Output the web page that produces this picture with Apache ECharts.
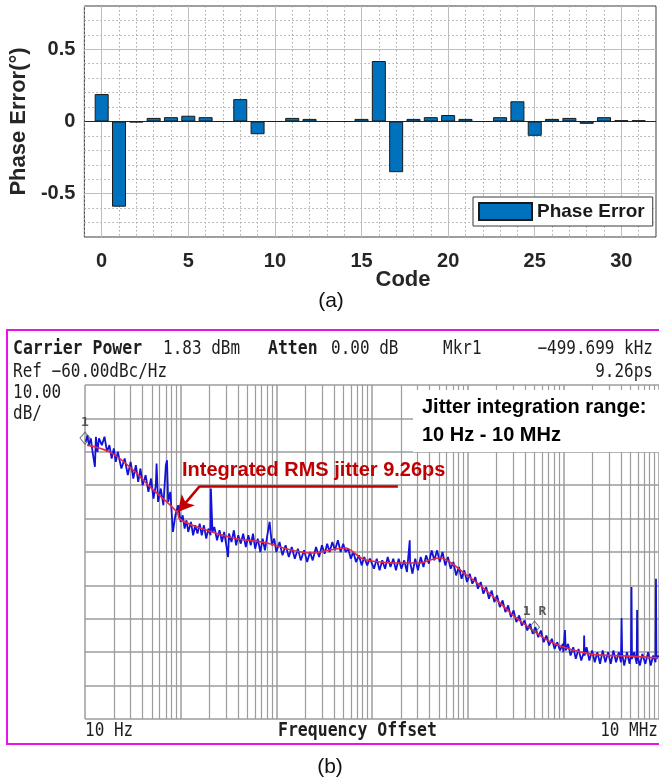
<!DOCTYPE html>
<html><head><meta charset="utf-8">
<script src="https://cdn.jsdelivr.net/npm/echarts@6/dist/echarts.min.js"></script>
<style>html,body{margin:0;padding:0;background:#fff}#c{width:659px;height:784px}</style>
</head><body><div id="c"></div>
<script>
// ---------- (a) Phase error ----------
const codes = [0,1,2,3,4,5,6,7,8,9,10,11,12,13,14,15,16,17,18,19,20,21,22,23,24,25,26,27,28,29,30,31];
const phaseError = [0.19,-0.59,-0.006,0.025,0.03,0.04,0.03,0,0.155,-0.088,0,0.025,0.018,0,0,0.018,0.419,-0.351,0.018,0.03,0.045,0.018,0,0.03,0.14,-0.099,0.018,0.025,-0.016,0.03,0.009,0.009];
const codeTicks = [0,5,10,15,20,25,30];
const phaseTicks = [-0.5,0,0.5];

// ---------- (b) Phase noise ----------
const blueTrace = [
[10.2,-77],[10.6,-75],[11,-78],[11.5,-76],[12,-80],[12.7,-84.5],[13,-75.5],[13.5,-80],[14,-76],[15,-78],[16,-75.5],[17,-80],[18,-78],[19,-82],[20,-79],[21,-83],[22,-80],[24,-85],[26,-82],[28,-87],[30,-83],[32,-88],[34,-84],[36,-89],[38,-85],[40,-90],[43,-87],[46,-92],[49,-88],[52,-94],[55,-90],[56,-83.5],[58,-95],[62,-91],[66,-96],[70,-84],[72,-82.5],[74,-95],[78,-92],[83,-104],[88,-99],[94,-96],[100,-101],
[105,-99],[110,-103],[115,-100.5],[120,-104],[128,-101],[135,-105],[142,-102],[150,-104.5],[158,-101.5],[166,-105],[175,-102],[185,-106],[195,-103],[205,-105],[207,-91],[215,-104],[225,-102.5],[240,-106.5],[255,-103.5],[270,-107],[285,-104],[300,-108],[313,-111.5],[320,-104.5],[340,-107],[360,-103.5],[380,-108],[400,-105],[425,-107.5],[450,-104.5],[480,-108.5],[510,-105],[540,-108],[570,-104.5],[600,-109],[640,-106],[680,-110],[720,-106],[760,-109.5],[800,-105.5],[850,-101],[900,-108],[950,-106],[1000,-110],
[1080,-107],[1160,-111],[1250,-108],[1350,-111.5],[1450,-108.5],[1560,-112],[1680,-109],[1800,-112.5],[1950,-109.5],[2100,-113],[2250,-110],[2400,-112.5],[2600,-108.5],[2800,-111.5],[3000,-108],[3200,-110.5],[3400,-107.5],[3600,-110],[3850,-107],[4100,-109.5],[4400,-106.5],[4700,-110],[5000,-107.5],[5300,-110],[5650,-109],[6000,-112],[6400,-110],[6800,-113],[7300,-111],[7800,-114],[8300,-111.5],[8900,-114],[9500,-112],
[10500,-115],[11200,-112],[12000,-115.5],[12800,-112.5],[13700,-115],[14600,-111.5],[15600,-114.5],[16700,-112],[17800,-115.5],[19000,-112],[20300,-115],[21700,-112.5],[23200,-116],[24800,-106.5],[25000,-113],[26500,-116.5],[28300,-112],[30200,-115.5],[32300,-111.5],[34500,-114.5],[36800,-111],[39300,-113.5],[42000,-109.5],[44800,-112.5],[47900,-109.5],[51100,-113],[54600,-110],[58300,-114],[62200,-111.5],[66400,-115],[70900,-113],[75700,-117],[80900,-114.5],[86400,-118],[92200,-115.5],[98500,-119],
[105000,-116.5],[112000,-119.5],[120000,-117.5],[128000,-121],[137000,-119],[146000,-122.5],[156000,-120.5],[167000,-124],[178000,-121.5],[190000,-125],[203000,-123],[217000,-126.5],[232000,-124.5],[248000,-128],[265000,-126],[283000,-129.5],[302000,-127.5],[323000,-131],[345000,-129],[368000,-132],[393000,-130.5],[420000,-133.5],[448000,-131.5],[479000,-134.5],[511000,-132.5],[546000,-135.5],[583000,-133.5],[623000,-137],[665000,-135],[710000,-138],[758000,-136],[810000,-139],[865000,-137],[924000,-139.5],[987000,-137.5],
[1000000,-140],[1040000,-133.4],[1060000,-139.5],[1120000,-137.5],[1190000,-141],[1270000,-138.5],[1350000,-142],[1440000,-139],[1540000,-142.5],[1640000,-140],[1650000,-135],[1670000,-141],[1750000,-138.5],[1870000,-142.5],[2000000,-139.5],[2130000,-143],[2270000,-140],[2420000,-143.5],[2580000,-139.5],[2750000,-143],[2940000,-140],[3130000,-143.5],[3340000,-139.5],[3560000,-143],[3800000,-140],[4000000,-143],[4060000,-129.8],[4120000,-140.5],[4330000,-144],[4620000,-140],[4930000,-143.5],[5100000,-140.5],[5160000,-120.5],[5220000,-142],[5500000,-140],[5850000,-143.5],[5900000,-127.4],[5960000,-141],[6300000,-144],[6700000,-140.5],[7200000,-143.5],[7700000,-140],[8200000,-144],[8700000,-141],[9200000,-143],[9300000,-118],[9400000,-142],[9900000,-141]
];
const redTrace = [
[10.5,-78],[18.2,-80.1],[29.5,-84.6],[47.8,-90.5],[91.4,-98],[98.4,-100.2],[159,-102.8],[352,-105.8],[798,-107.3],[1291,-109.1],[2412,-110.3],[3630,-109.4],[5210,-108.8],[8035,-112.1],[12100,-113],[18200,-113.3],[31600,-113.3],[40300,-112.4],[51300,-111.8],[65200,-113],[89100,-116],[134000,-119.9],[202000,-124.4],[297000,-128.9],[447000,-132.8],[673000,-136.3],[989000,-138.4],[1490000,-139.9],[2240000,-140.8],[4190000,-141.1],[6780000,-141.4],[9700000,-141.7]
];
const markers = [[10,-75.9],[499699,-132.5]];
const markerLabels = ['1','1 R'];
const decades = [10,100,1000,10000,100000,1000000];
const minorMult = [2,3,4,5,6,7,8,9];

const minorGrid = [];
decades.forEach(d => minorMult.forEach(m => minorGrid.push({xAxis: d*m})));

const chart = echarts.init(document.getElementById('c'), null, {renderer:'canvas'});
const SANS = 'Liberation Sans, Arial, sans-serif';
const MONO = 'DejaVu Sans Mono, Liberation Mono, monospace';

function isTick(v, arr){ return arr.find(t => Math.abs(t - v) < 1e-6); }

const gridMarks = [];
codeTicks.forEach(c => gridMarks.push({xAxis:c, lineStyle:{color:'#bdbdbd', width:1, type:'solid'}}));
phaseTicks.forEach(p => gridMarks.push({yAxis:p, lineStyle: p===0 ? {color:'#262626', width:1.2, type:'solid'} : {color:'#bdbdbd', width:1, type:'solid'}}));

function monoText(txt, x, y, opt){
  return {type:'text', x:x, y:y, z:100, scaleY:1.18, style:Object.assign({text:txt, font:'16px '+MONO, fill:'#1e1e1e', verticalAlign:'middle', align:'left'}, opt||{})};
}

const option = {
  animation:false,
  backgroundColor:'#fff',
  grid:[
    {left:72, top:6, right:-25, bottom:547, show:true, backgroundColor:'#fff', borderColor:'#3a3a3a', borderWidth:1},
    {left:85, top:385, right:0, bottom:65}
  ],
  xAxis:[
    {gridIndex:0, type:'value', min:-1, max:32, interval:1,
     axisLine:{show:false}, axisTick:{show:false},
     splitLine:{show:true, lineStyle:{color:'#a8a8a8', type:[1.5,2.5], width:1}},
     axisLabel:{interval:0, margin:14, fontFamily:SANS, fontWeight:'bold', fontSize:20, color:'#262626',
       formatter: v => { const t = isTick(v, codeTicks); return t===undefined ? '' : String(t); }}},
    {gridIndex:1, type:'log', logBase:10, min:10, max:10000000,
     axisLine:{show:false}, axisTick:{show:false}, axisLabel:{show:false},
     splitLine:{show:true, lineStyle:{color:'#9c9c9c', width:1.5}}}
  ],
  yAxis:[
    {gridIndex:0, type:'value', min:-0.8, max:0.8, interval:0.1,
     axisLine:{show:false}, axisTick:{show:false},
     splitLine:{show:true, lineStyle:{color:'#a8a8a8', type:[1.5,2.5], width:1}},
     name:'Phase Error(°)', nameLocation:'middle', nameGap:51, nameRotate:90,
     nameTextStyle:{fontFamily:SANS, fontWeight:'bold', fontSize:22, color:'#262626'},
     axisLabel:{interval:0, margin:9, fontFamily:SANS, fontWeight:'bold', fontSize:20, color:'#262626',
       formatter: v => { const t = isTick(v, phaseTicks); return t===undefined ? '' : String(t); }}},
    {gridIndex:1, type:'value', min:-160, max:-60, interval:10,
     axisLine:{show:false}, axisTick:{show:false}, axisLabel:{show:false},
     splitLine:{show:true, lineStyle:{color:'#9c9c9c', width:1.5}}}
  ],
  legend:{
    data:['Phase Error'], left:473, top:197, orient:'horizontal',
    icon:'rect', itemWidth:53, itemHeight:17, itemGap:5,
    padding:[5,8,5,5], borderColor:'#3a3a3a', borderWidth:1, backgroundColor:'#fff',
    textStyle:{fontFamily:SANS, fontWeight:'bold', fontSize:19, color:'#1a1a1a'}
  },
  series:[
    {name:'Phase Error', type:'bar', xAxisIndex:0, yAxisIndex:0, z:3,
     barWidth:14,
     data: codes.map((c,i)=>[c, phaseError[i]]),
     itemStyle:{color:'#0072BD', borderColor:'#1a1a1a', borderWidth:1},
     markLine:{silent:true, z:1, symbol:['none','none'], label:{show:false}, data:gridMarks}
    },
    {name:'noise', type:'line', xAxisIndex:1, yAxisIndex:1, z:3,
     data: blueTrace, showSymbol:false, symbol:'none',
     lineStyle:{color:'#1212d8', width:1.8},
     markLine:{silent:true, z:1, symbol:['none','none'], label:{show:false},
       lineStyle:{color:'#9c9c9c', width:1.2, type:'solid'}, data:minorGrid}
    },
    {name:'smooth', type:'line', xAxisIndex:1, yAxisIndex:1, z:4,
     data: redTrace, smooth:0.4, showSymbol:false, symbol:'none',
     lineStyle:{color:'#e42a48', width:1.6},
     markLine:{silent:true, z:6, label:{show:false}, lineStyle:{color:'#c00000', width:2.5, type:'solid'},
       data:[
         [{coord:[159,-90.2], symbol:'none'}, {coord:[18650,-90.2], symbol:'none'}],
         [{coord:[159,-90.2], symbol:'none'}, {coord:[93.7,-98.0], symbol:'arrow', symbolSize:[13,16]}]
       ]}
    },
    {name:'markers', type:'scatter', xAxisIndex:1, yAxisIndex:1, z:7,
     data: markers.map((m,i)=>({value:m, label:{show:true, formatter:markerLabels[i]}})),
     symbol:'diamond', symbolSize:[10,12],
     itemStyle:{color:'rgba(255,255,255,0)', borderColor:'#555', borderWidth:1},
     label:{position:'top', distance:2, fontFamily:MONO, fontWeight:'bold', fontSize:13, color:'#333'}
    }
  ],
  graphic:[
    {type:'rect', z:50, shape:{x:7, y:330, width:700, height:414}, style:{fill:'none', stroke:'#e614e6', lineWidth:2}},
    {type:'text', x:403, y:280, z:100, style:{text:'Code', font:'bold 22px '+SANS, fill:'#262626', align:'center', verticalAlign:'middle'}},
    {type:'text', x:331, y:301, z:100, style:{text:'(a)', font:'21px '+SANS, fill:'#111', align:'center', verticalAlign:'middle'}},
    {type:'text', x:330, y:767, z:100, style:{text:'(b)', font:'21px '+SANS, fill:'#111', align:'center', verticalAlign:'middle'}},
    monoText('Carrier Power', 13, 349, {font:'bold 16.5px '+MONO}),
    monoText('1.83 dBm', 163, 349),
    monoText('Atten', 268, 349, {font:'bold 16.5px '+MONO}),
    monoText('0.00 dB', 331, 349),
    monoText('Mkr1', 443, 349),
    monoText('\u2212499.699 kHz', 653, 349, {align:'right'}),
    monoText('Ref \u221260.00dBc/Hz', 13, 372),
    monoText('9.26ps', 653, 372, {align:'right'}),
    monoText('10.00', 13, 393),
    monoText('dB/', 13, 414),
    monoText('10 Hz', 85, 731),
    monoText('Frequency Offset', 278, 731, {font:'bold 16.5px '+MONO}),
    monoText('10 MHz', 658, 731, {align:'right'}),
    {type:'rect', z:90, shape:{x:413, y:390, width:260, height:62}, style:{fill:'#fff'}},
    {type:'text', x:422, y:407, z:100, style:{text:'Jitter integration range:', font:'bold 20px '+SANS, fill:'#000', verticalAlign:'middle'}},
    {type:'text', x:422, y:435, z:100, style:{text:'10 Hz - 10 MHz', font:'bold 20px '+SANS, fill:'#000', verticalAlign:'middle'}},
    {type:'text', x:182, y:470, z:100, style:{text:'Integrated RMS jitter 9.26ps', font:'bold 20px '+SANS, fill:'#c00000', verticalAlign:'middle'}}
  ]
};
chart.setOption(option);
</script>
</body></html>
